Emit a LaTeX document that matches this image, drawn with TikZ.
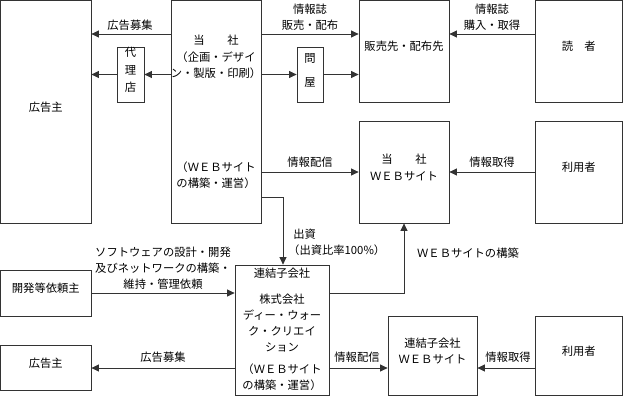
\documentclass[tikz,border=0pt]{standalone}
\usepackage{fontspec}
\setmainfont{Noto Sans CJK JP}
\usetikzlibrary{arrows.meta,fit}
\begin{document}
\begin{tikzpicture}[x=1pt,y=-1pt,
 box/.style={draw=black!80, line width=0.8pt, inner sep=0pt, align=center},
 arr/.style={draw=black!80, line width=0.8pt, -{Triangle[length=7.5pt,width=7pt]}},
 lbl/.style={align=center, inner sep=0pt},
 every node/.style={font=\fontsize{11.3}{16}\selectfont}]
\useasboundingbox (0,0) rectangle (623,397);
% boxes
\node[box, fit={(0.6,0.6) (91,223)}] (adv1) {広告主};
\node[box, fit={(171,0.6) (261,223)}] (tosha) {};
\node[box, fit={(117,47) (144,102)}, font=\fontsize{11.3}{17.5}\selectfont] (dairi) {代\\理\\店};
\node[box, fit={(297,47) (323,102)}, font=\fontsize{11.3}{24}\selectfont] (toiya) {問\\屋};
\node[box, fit={(359,0.6) (449,102)}] (hanbai) {販売先・配布先};
\node[box, fit={(535,0.6) (622.4,102)}] (dokusha) {読\hspace{1em}者};
\node[box, fit={(359,121) (449,223)}, font=\fontsize{11.3}{17}\selectfont] (web1) {当\hspace{2em}社\\ＷＥＢサイト};
\node[box, fit={(535,121) (622.4,223)}] (user1) {利用者};
\node[box, fit={(0.6,270) (91,316)}] (dev) {開発等依頼主};
\node[box, fit={(0.6,345) (91,390)}] (adv2) {広告主};
\node[box, fit={(235,265) (329,395)}] (sub) {};
\node[box, fit={(388,316) (477,395)}] (web2) {連結子会社\\ＷＥＢサイト};
\node[box, fit={(535,316) (622.4,395)}] (user2) {利用者};
% texts inside tosha
\node[lbl] (t1) at (216,40) {当\hspace{2em}社};
\node[lbl] (t2) at (216,65) {（企画・デザイ\\ン・製版・印刷）};
\node[lbl] (t3) at (216,175) {（ＷＥＢサイト\\の構築・運営）};
% texts inside sub
\node[lbl] (s1) at (282,273) {連結子会社};
\node[lbl] (s2) at (282,323) {株式会社\\ディー・ウォー\\ク・クリエイ\\ション};
\node[lbl] (s3) at (282,377) {（ＷＥＢサイト\\の構築・運営）};
% connectors top
\draw[arr] (tosha.west |- 0,34) -- (adv1.east |- 0,34);
\node[lbl] (l1) at (130,25) {広告募集};
\draw[arr] (tosha.west |- dairi.east) -- (dairi.east);
\draw[arr] (dairi.west) -- (adv1.east |- dairi.west);
\draw[arr] (tosha.east |- toiya.west) -- (toiya.west);
\draw[arr] (toiya.east) -- (hanbai.west |- toiya.east);
\draw[arr] (tosha.east |- 0,34) -- (hanbai.west |- 0,34);
\node[lbl] (l2) at (310,17) {情報誌\\販売・配布};
\draw[arr] (dokusha.west |- 0,34) -- (hanbai.east |- 0,34);
\node[lbl] (l3) at (492,17) {情報誌\\購入・取得};
\draw[arr] (tosha.east |- web1.west) -- (web1.west);
\node[lbl] (l4) at (310,162) {情報配信};
\draw[arr] (user1.west) -- (web1.east);
\node[lbl] (l5) at (492,162) {情報取得};
% capital
\coordinate (c1) at (283,197);
\draw[arr] (tosha.east |- c1) -- (c1) -- (c1 |- sub.north);
\node[lbl, anchor=north west, align=left] (l6) at (288,229) {\hspace{0.45em}出資\\（出資比率100\%）};
% dev
\draw[arr] (dev.east) -- (sub.west |- dev.east);
\node[lbl] (l7) at (163,268) {ソフトウェアの設計・開発\\及びネットワークの構築・\\維持・管理依頼};
% sub to web1
\coordinate (c2) at (404,293);
\draw[arr] (sub.east |- c2) -- (c2) -- (c2 |- web1.south);
\node[lbl] (l8) at (468,253) {ＷＥＢサイトの構築};
% bottom
\draw[arr] (sub.west |- 0,368) -- (adv2.east |- 0,368);
\node[lbl] (l9) at (163,357) {広告募集};
\draw[arr] (sub.east |- 0,368) -- (web2.west |- 0,368);
\node[lbl] (l10) at (357,357) {情報配信};
\draw[arr] (user2.west |- 0,368) -- (web2.east |- 0,368);
\node[lbl] (l11) at (508,357) {情報取得};
\end{tikzpicture}
\end{document}
